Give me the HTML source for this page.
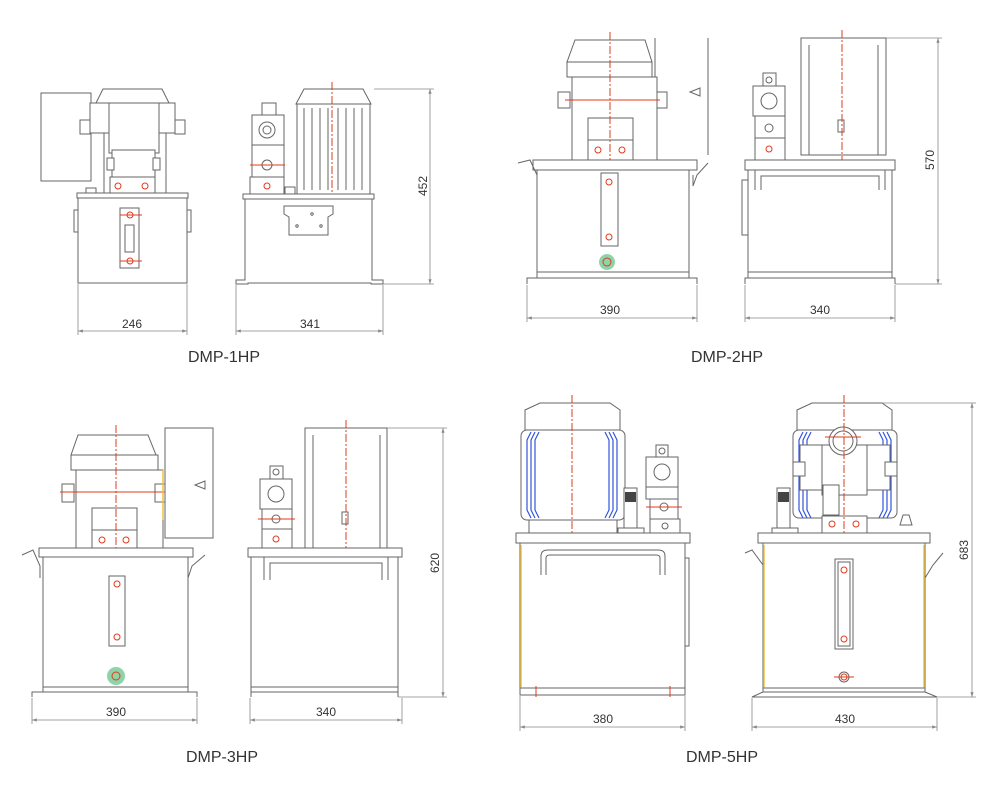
<!DOCTYPE html>
<html><head><meta charset="utf-8"><style>
html,body{margin:0;padding:0;background:#fff}
svg{display:block}
text{font-family:"Liberation Sans",sans-serif;fill:#333}
.l{fill:none;stroke:#666;stroke-width:1}
.f{fill:#fff;stroke:#666;stroke-width:1}
.r{fill:none;stroke:#e03a1e;stroke-width:1;stroke-dasharray:8 2 2 2}
.rc{fill:none;stroke:#e03a1e;stroke-width:1}
.d{fill:none;stroke:#888;stroke-width:0.8}
.b{fill:none;stroke:#3355dd;stroke-width:1.2}
.y{stroke:#f0c040;stroke-width:1.5}
.dim{font-size:12px}
.lab{font-size:16px;fill:#333}
</style></head><body>
<svg width="1000" height="800" viewBox="0 0 1000 800" xmlns="http://www.w3.org/2000/svg">
<defs>
<marker id="a" viewBox="0 0 6 6" refX="6" refY="3" markerWidth="6" markerHeight="6" orient="auto-start-reverse"><path d="M0,1 L6,3 L0,5z" fill="#888"/></marker>
</defs>

<!-- ============ DMP-1HP FRONT ============ -->
<rect class="f" x="41" y="93" width="50" height="88"/>
<rect class="f" x="104" y="110" width="62" height="85"/>
<path class="f" d="M96,103 L103,89 L162,89 L169,103 Z"/>
<rect class="f" x="90" y="103" width="85" height="30"/>
<rect class="f" x="109" y="103" width="50" height="50"/>
<rect class="f" x="80" y="120" width="10" height="14"/>
<rect class="f" x="175" y="120" width="10" height="14"/>
<rect class="f" x="112" y="150" width="43" height="28"/>
<rect class="f" x="107" y="158" width="7" height="12"/><rect class="f" x="153" y="158" width="7" height="12"/>
<rect class="f" x="110" y="177" width="45" height="17"/>
<circle class="rc" cx="118" cy="186" r="3"/><circle class="rc" cx="145" cy="186" r="3"/>
<rect class="f" x="86" y="188" width="10" height="6"/>
<rect class="f" x="77" y="193" width="111" height="5"/>
<rect class="f" x="78" y="198" width="109" height="85"/>
<rect class="f" x="74" y="210" width="4" height="22"/><rect class="f" x="187" y="210" width="4" height="22"/>
<rect class="f" x="120" y="208" width="19" height="60"/>
<rect class="l" x="125" y="225" width="9" height="27"/>
<circle class="rc" cx="130" cy="215" r="3"/><circle class="rc" cx="130" cy="261" r="3"/>
<line class="rc" x1="120" y1="215" x2="142" y2="215"/><line class="rc" x1="120" y1="261" x2="142" y2="261"/>
<line class="d" x1="78" y1="284" x2="78" y2="335"/><line class="d" x1="187" y1="284" x2="187" y2="335"/>
<line class="d" x1="78" y1="331" x2="187" y2="331" marker-start="url(#a)" marker-end="url(#a)"/>
<text class="dim" x="132" y="328" text-anchor="middle">246</text>
<text class="lab" x="224" y="362" text-anchor="middle">DMP-1HP</text>

<!-- ============ DMP-1HP SIDE ============ -->
<path class="f" d="M296,104 L304,89 L363,89 L371,104 Z"/>
<rect class="f" x="297" y="104" width="73" height="90"/>
<g class="l"><line x1="304" y1="108" x2="304" y2="190"/><line x1="312" y1="108" x2="312" y2="190"/><line x1="320" y1="108" x2="320" y2="190"/><line x1="328" y1="108" x2="328" y2="190"/><line x1="338" y1="108" x2="338" y2="190"/><line x1="346" y1="108" x2="346" y2="190"/><line x1="354" y1="108" x2="354" y2="190"/><line x1="362" y1="108" x2="362" y2="190"/></g>
<line class="r" x1="332" y1="82" x2="332" y2="210"/>
<rect class="f" x="262" y="103" width="14" height="13"/>
<rect class="f" x="252" y="115" width="32" height="30"/>
<circle class="l" cx="267" cy="130" r="8"/><circle class="l" cx="267" cy="130" r="4"/>
<rect class="f" x="252" y="145" width="32" height="32"/>
<circle class="l" cx="267" cy="165" r="5"/>
<line class="rc" x1="250" y1="165" x2="285" y2="165"/>
<rect class="f" x="250" y="177" width="34" height="17"/>
<circle class="rc" cx="267" cy="186" r="3"/>
<rect class="f" x="285" y="187" width="10" height="7"/>
<rect class="f" x="243" y="194" width="131" height="5"/>
<path class="f" d="M245,199 L372,199 L372,280 L383,280 L383,284 L371,284 L371,283 L248,283 L248,284 L236,284 L236,280 L245,280 Z"/>
<path class="f" d="M284,206 L333,206 L333,214 L328,217 L328,235 L289,235 L289,217 L284,214 Z"/>
<circle class="l" cx="312" cy="214" r="1.2"/><circle class="l" cx="297" cy="226" r="1.2"/><circle class="l" cx="321" cy="226" r="1.2"/>
<line class="d" x1="374" y1="89" x2="434" y2="89"/><line class="d" x1="383" y1="284" x2="434" y2="284"/>
<line class="d" x1="430" y1="89" x2="430" y2="284" marker-start="url(#a)" marker-end="url(#a)"/>
<text class="dim" transform="translate(427,186) rotate(-90)" text-anchor="middle">452</text>
<line class="d" x1="236" y1="285" x2="236" y2="335"/><line class="d" x1="383" y1="285" x2="383" y2="335"/>
<line class="d" x1="236" y1="331" x2="383" y2="331" marker-start="url(#a)" marker-end="url(#a)"/>
<text class="dim" x="310" y="328" text-anchor="middle">341</text>

<!-- ============ DMP-2HP FRONT ============ -->
<line class="l" x1="655" y1="38" x2="655" y2="155"/><line class="l" x1="708" y1="38" x2="708" y2="155"/>
<path class="f" d="M567,62 L575,40 L645,40 L652,62 Z"/>
<rect class="f" x="567" y="62" width="85" height="15"/>
<rect class="f" x="572" y="77" width="85" height="83"/>
<rect class="f" x="558" y="92" width="12" height="16"/><rect class="f" x="657" y="92" width="10" height="16"/>
<rect class="f" x="588" y="118" width="45" height="22"/>
<rect class="f" x="588" y="140" width="45" height="20"/>
<circle class="rc" cx="598" cy="150" r="3"/><circle class="rc" cx="622" cy="150" r="3"/>
<line class="r" x1="610" y1="32" x2="610" y2="170"/>
<line class="rc" x1="565" y1="100" x2="660" y2="100"/>
<path class="l" d="M690,92 L700,88 L700,96 Z"/>
<rect class="f" x="533" y="160" width="164" height="10"/>
<path class="l" d="M518,163 L530,160 L537,175 L537,186 M693,175 L693,186 L697,175 L708,163"/>
<rect class="f" x="537" y="170" width="152" height="102"/>
<path class="l" d="M537,272 L537,278 L527,278 L527,284 M689,272 L689,278 L697,278 L697,284"/>
<line class="l" x1="537" y1="278" x2="689" y2="278"/>
<rect class="f" x="601" y="173" width="17" height="73"/>
<circle class="rc" cx="609" cy="182" r="3"/><circle class="rc" cx="609" cy="237" r="3"/>
<circle cx="607" cy="262" r="8" fill="#8fd4a8" stroke="none"/>
<circle class="rc" cx="607" cy="262" r="4"/>
<line class="d" x1="527" y1="285" x2="527" y2="322"/><line class="d" x1="697" y1="285" x2="697" y2="322"/>
<line class="d" x1="527" y1="318" x2="697" y2="318" marker-start="url(#a)" marker-end="url(#a)"/>
<text class="dim" x="610" y="314" text-anchor="middle">390</text>
<text class="lab" x="727" y="362" text-anchor="middle">DMP-2HP</text>

<!-- ============ DMP-2HP SIDE ============ -->
<rect class="f" x="801" y="38" width="85" height="117"/>
<line class="l" x1="809" y1="45" x2="809" y2="155"/><line class="l" x1="878" y1="45" x2="878" y2="155"/>
<rect class="l" x="838" y="120" width="6" height="12"/>
<line class="r" x1="842" y1="30" x2="842" y2="165"/>
<rect class="f" x="763" y="73" width="13" height="13"/><circle class="l" cx="769" cy="80" r="3"/>
<rect class="f" x="753" y="86" width="32" height="30"/><circle class="l" cx="769" cy="101" r="8"/>
<rect class="f" x="755" y="116" width="30" height="22"/><circle class="l" cx="769" cy="128" r="4"/>
<rect class="f" x="755" y="138" width="30" height="22"/><circle class="rc" cx="769" cy="149" r="3"/>
<rect class="f" x="745" y="160" width="150" height="10"/>
<rect class="f" x="748" y="170" width="144" height="102"/>
<path class="l" d="M755,190 L755,170 L885,170 L885,190 M761,190 L761,176 L879,176 L879,190"/>
<rect class="f" x="742" y="180" width="6" height="55"/>
<path class="l" d="M748,272 L748,278 L745,278 L745,284 M892,272 L892,278 L895,278 L895,284"/>
<line class="l" x1="748" y1="278" x2="892" y2="278"/>
<line class="d" x1="886" y1="38" x2="942" y2="38"/><line class="d" x1="895" y1="284" x2="942" y2="284"/>
<line class="d" x1="938" y1="38" x2="938" y2="284" marker-start="url(#a)" marker-end="url(#a)"/>
<text class="dim" transform="translate(934,160) rotate(-90)" text-anchor="middle">570</text>
<line class="d" x1="745" y1="285" x2="745" y2="322"/><line class="d" x1="895" y1="285" x2="895" y2="322"/>
<line class="d" x1="745" y1="318" x2="895" y2="318" marker-start="url(#a)" marker-end="url(#a)"/>
<text class="dim" x="820" y="314" text-anchor="middle">340</text>

<!-- ============ DMP-3HP FRONT ============ -->
<rect class="f" x="165" y="428" width="48" height="110"/>
<path class="f" d="M71,455 L78,435 L148,435 L156,455 Z"/>
<rect class="f" x="71" y="455" width="87" height="15"/>
<rect class="f" x="76" y="470" width="87" height="78"/>
<rect class="f" x="62" y="484" width="12" height="18"/><rect class="f" x="155" y="484" width="10" height="18"/>
<rect class="f" x="92" y="508" width="45" height="22"/>
<rect class="f" x="92" y="530" width="45" height="18"/>
<circle class="rc" cx="102" cy="540" r="3"/><circle class="rc" cx="126" cy="540" r="3"/>
<line class="r" x1="116" y1="425" x2="116" y2="558"/>
<line class="rc" x1="60" y1="492" x2="165" y2="492"/>
<line class="y" x1="163" y1="470" x2="163" y2="520"/>
<path class="l" d="M195,485 L205,481 L205,489 Z"/>
<rect class="f" x="39" y="548" width="154" height="9"/>
<path class="l" d="M22,555 L33,550 L40,566 L40,578 M188,566 L188,578 L192,566 L205,555"/>
<rect class="f" x="43" y="557" width="145" height="130"/>
<path class="l" d="M43,687 L43,692 L32,692 L32,697 M188,687 L188,692 L197,692 L197,697"/>
<line class="l" x1="43" y1="692" x2="188" y2="692"/>
<rect class="f" x="109" y="576" width="16" height="70"/>
<circle class="rc" cx="117" cy="584" r="3"/><circle class="rc" cx="117" cy="637" r="3"/>
<circle cx="116" cy="676" r="9" fill="#8fd4a8" stroke="none"/>
<circle class="rc" cx="116" cy="676" r="4"/>
<line class="d" x1="32" y1="698" x2="32" y2="724"/><line class="d" x1="197" y1="698" x2="197" y2="724"/>
<line class="d" x1="32" y1="720" x2="197" y2="720" marker-start="url(#a)" marker-end="url(#a)"/>
<text class="dim" x="116" y="716" text-anchor="middle">390</text>
<text class="lab" x="222" y="762" text-anchor="middle">DMP-3HP</text>

<!-- ============ DMP-3HP SIDE ============ -->
<rect class="f" x="305" y="428" width="82" height="120"/>
<line class="l" x1="313" y1="435" x2="313" y2="548"/><line class="l" x1="380" y1="435" x2="380" y2="548"/>
<rect class="l" x="342" y="512" width="6" height="12"/>
<line class="r" x1="346" y1="420" x2="346" y2="558"/>
<rect class="f" x="270" y="466" width="13" height="13"/><circle class="l" cx="276" cy="472" r="3"/>
<rect class="f" x="260" y="479" width="32" height="30"/><circle class="l" cx="276" cy="494" r="8"/>
<rect class="f" x="262" y="509" width="30" height="20"/><circle class="l" cx="276" cy="519" r="4"/>
<line class="rc" x1="258" y1="519" x2="295" y2="519"/>
<rect class="f" x="262" y="529" width="30" height="19"/><circle class="rc" cx="276" cy="539" r="3"/>
<rect class="f" x="248" y="548" width="154" height="9"/>
<rect class="f" x="251" y="557" width="147" height="130"/>
<path class="l" d="M264,580 L264,557 L388,557 L388,580 M270,580 L270,563 L382,563 L382,580"/>
<path class="l" d="M251,687 L251,697 M398,687 L398,697"/>
<line class="l" x1="251" y1="692" x2="398" y2="692"/>
<line class="d" x1="387" y1="428" x2="447" y2="428"/><line class="d" x1="398" y1="697" x2="447" y2="697"/>
<line class="d" x1="443" y1="428" x2="443" y2="697" marker-start="url(#a)" marker-end="url(#a)"/>
<text class="dim" transform="translate(439,563) rotate(-90)" text-anchor="middle">620</text>
<line class="d" x1="250" y1="698" x2="250" y2="724"/><line class="d" x1="402" y1="698" x2="402" y2="724"/>
<line class="d" x1="250" y1="720" x2="402" y2="720" marker-start="url(#a)" marker-end="url(#a)"/>
<text class="dim" x="326" y="716" text-anchor="middle">340</text>

<!-- ============ DMP-5HP FRONT ============ -->
<path class="f" d="M525,430 L525,410 L540,403 L610,403 L620,410 L620,430 Z"/>
<rect class="f" x="521" y="430" width="104" height="90" rx="6"/>
<path class="b" d="M531,432 L527,440 L527,510 L531,518 M535,432 L531,440 L531,510 L535,518 M539,432 L535,440 L535,510 L539,518 M613,432 L617,440 L617,510 L613,518 M609,432 L613,440 L613,510 L609,518 M605,432 L609,440 L609,510 L605,518"/>
<rect class="f" x="529" y="520" width="88" height="13"/>
<line class="r" x1="572" y1="395" x2="572" y2="545"/>
<rect class="f" x="624" y="488" width="13" height="40"/>
<rect x="625" y="492" width="11" height="10" fill="#444"/>
<rect class="f" x="618" y="528" width="26" height="5"/>
<rect class="f" x="656" y="445" width="12" height="12"/><circle class="l" cx="662" cy="451" r="3"/>
<rect class="f" x="646" y="457" width="32" height="30"/><circle class="l" cx="662" cy="472" r="8"/>
<rect class="f" x="646" y="487" width="32" height="12"/>
<rect class="f" x="650" y="499" width="28" height="20"/><circle class="l" cx="664" cy="507" r="4"/>
<line class="rc" x1="646" y1="507" x2="682" y2="507"/>
<rect class="f" x="650" y="519" width="30" height="14"/><circle class="l" cx="665" cy="526" r="3"/>
<rect class="f" x="516" y="533" width="174" height="10"/>
<rect class="f" x="520" y="543" width="165" height="145"/>
<line class="y" x1="521" y1="545" x2="521" y2="687"/>
<path class="l" d="M541,575 L541,556 Q541,550 548,550 L658,550 Q665,550 665,556 L665,575 M546,575 L546,558 Q546,555 550,555 L656,555 Q660,555 660,558 L660,575"/>
<rect class="f" x="685" y="558" width="4" height="88"/>
<rect class="f" x="520" y="688" width="165" height="7"/>
<line class="rc" x1="536" y1="686" x2="536" y2="697"/><line class="rc" x1="670" y1="686" x2="670" y2="697"/>
<line class="d" x1="520" y1="696" x2="520" y2="731"/><line class="d" x1="685" y1="696" x2="685" y2="731"/>
<line class="d" x1="520" y1="727" x2="685" y2="727" marker-start="url(#a)" marker-end="url(#a)"/>
<text class="dim" x="603" y="723" text-anchor="middle">380</text>
<text class="lab" x="722" y="762" text-anchor="middle">DMP-5HP</text>

<!-- ============ DMP-5HP SIDE ============ -->
<path class="f" d="M797,430 L797,410 L812,403 L882,403 L892,410 L892,430 Z"/>
<rect class="f" x="793" y="430" width="104" height="88" rx="6"/>
<path class="b" d="M803,432 L799,440 L799,510 L803,518 M807,432 L803,440 L803,510 L807,518 M811,432 L807,440 L807,510 L811,518 M887,432 L891,440 L891,510 L887,518 M883,432 L887,440 L887,510 L883,518 M879,432 L883,440 L883,510 L879,518"/>
<rect class="f" x="800" y="445" width="90" height="45"/>
<rect class="f" x="793" y="462" width="12" height="14"/><rect class="f" x="885" y="462" width="12" height="14"/>
<rect class="f" x="822" y="445" width="45" height="50"/>
<circle class="f" cx="843" cy="441" r="14"/><circle class="l" cx="843" cy="441" r="10"/>
<line class="rc" x1="825" y1="437" x2="861" y2="437"/>
<rect class="f" x="823" y="485" width="16" height="30"/>
<rect class="f" x="822" y="516" width="45" height="17"/>
<circle class="rc" cx="832" cy="524" r="3"/><circle class="rc" cx="856" cy="524" r="3"/>
<line class="r" x1="844" y1="395" x2="844" y2="545"/>
<rect class="f" x="777" y="488" width="13" height="40"/>
<rect x="778" y="492" width="11" height="10" fill="#444"/>
<rect class="f" x="772" y="528" width="26" height="5"/>
<path class="f" d="M900,525 L903,515 L909,515 L912,525 Z"/>
<rect class="f" x="758" y="533" width="172" height="10"/>
<path class="l" d="M745,553 L752,550 L763,565 L763,578 M925,565 L925,578 L933,565 L943,553"/>
<rect class="f" x="763" y="543" width="162" height="145"/>
<line class="y" x1="764" y1="545" x2="764" y2="687"/><line class="y" x1="924" y1="545" x2="924" y2="687"/>
<rect class="f" x="835" y="559" width="18" height="90"/>
<rect class="l" x="838" y="562" width="12" height="84"/>
<circle class="rc" cx="844" cy="570" r="3"/><circle class="rc" cx="844" cy="639" r="3"/>
<circle class="l" cx="844" cy="677" r="5"/><circle class="rc" cx="844" cy="677" r="3"/>
<line class="rc" x1="834" y1="677" x2="854" y2="677"/>
<path class="l" d="M763,688 L763,692 L752,697 L937,697 L925,692 L925,688"/>
<line class="l" x1="763" y1="692" x2="925" y2="692"/>
<line class="d" x1="882" y1="403" x2="976" y2="403"/><line class="d" x1="937" y1="697" x2="976" y2="697"/>
<line class="d" x1="972" y1="403" x2="972" y2="697" marker-start="url(#a)" marker-end="url(#a)"/>
<text class="dim" transform="translate(968,550) rotate(-90)" text-anchor="middle">683</text>
<line class="d" x1="752" y1="698" x2="752" y2="731"/><line class="d" x1="937" y1="698" x2="937" y2="731"/>
<line class="d" x1="752" y1="727" x2="937" y2="727" marker-start="url(#a)" marker-end="url(#a)"/>
<text class="dim" x="845" y="723" text-anchor="middle">430</text>
</svg>
</body></html>
